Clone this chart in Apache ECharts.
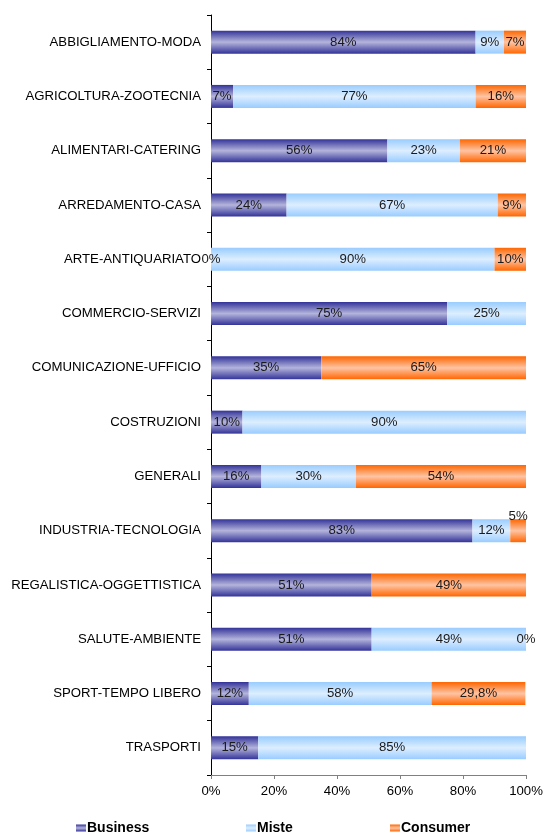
<!DOCTYPE html>
<html>
<head>
<meta charset="utf-8">
<script src="https://cdn.jsdelivr.net/npm/echarts@6/dist/echarts.min.js"></script>
<style>
  html, body { margin: 0; padding: 0; background: #fff; }
  #chart { width: 544px; height: 836px; }
</style>
</head>
<body>
<div id="chart"></div>
<script>
const categories = [
  "ABBIGLIAMENTO-MODA", "AGRICOLTURA-ZOOTECNIA", "ALIMENTARI-CATERING",
  "ARREDAMENTO-CASA", "ARTE-ANTIQUARIATO", "COMMERCIO-SERVIZI",
  "COMUNICAZIONE-UFFICIO", "COSTRUZIONI", "GENERALI",
  "INDUSTRIA-TECNOLOGIA", "REGALISTICA-OGGETTISTICA", "SALUTE-AMBIENTE",
  "SPORT-TEMPO LIBERO", "TRASPORTI"
];
const business = [84, 7, 56, 24, 0, 75, 35, 10, 16, 83, 51, 51, 12, 15];
const miste = [9, 77, 23, 67, 90, 25, null, 90, 30, 12, null, 49, 58, 85];
const consumer = [7, 16, 21, 9, 10, null, 65, null, 54, 5, 49, 0, 29.8, null];
const xTicks = ["0%", "20%", "40%", "60%", "80%", "100%"];

const font = "Liberation Sans, Arial, sans-serif";

function grad(edge, mid) {
  return new echarts.graphic.LinearGradient(0, 0, 0, 1, [
    { offset: 0, color: edge },
    { offset: 0.5, color: mid },
    { offset: 1, color: edge }
  ]);
}

const colBusiness = grad("#333399", "#b4b4dc");
const colMiste = grad("#99ccff", "#ddeeff");
const colConsumer = grad("#ff6600", "#ffc4a4");

const labelFmt = p => String(p.value).replace(".", ",") + "%";

function makeSeries(name, values, color) {
  return {
    name: name,
    type: "bar",
    stack: "tot",
    barWidth: 23,
    itemStyle: { color: color },
    label: {
      show: true,
      position: "inside",
      color: "#1a1a1a",
      fontFamily: font,
      fontSize: 13.2,
      formatter: labelFmt
    },
    data: values.map((v, i) => {
      if (name === "Consumer" && categories[i] === "INDUSTRIA-TECNOLOGIA") {
        return { value: v, label: { offset: [0, -14] } };
      }
      return v;
    })
  };
}

function legendAt(name, left) {
  return {
    data: [{ name: name, icon: "rect" }],
    left: left,
    top: 821,
    itemWidth: 10,
    itemHeight: 7,
    itemGap: 2,
    padding: 0,
    textStyle: { fontFamily: font, fontSize: 14, fontWeight: "bold", color: "#000", padding: [0, 0, 0, -4] }
  };
}

const chart = echarts.init(document.getElementById("chart"));
chart.setOption({
  animation: false,
  grid: { left: 211, right: 18, top: 15, bottom: 61, containLabel: false, outerBoundsMode: "none" },
  xAxis: {
    type: "value",
    min: 0,
    max: 100,
    interval: 20,
    axisLine: { show: true, lineStyle: { color: "#808080", width: 1 } },
    axisTick: { show: true, length: 4, lineStyle: { color: "#808080" } },
    splitLine: { show: false },
    axisLabel: {
      color: "#000",
      fontFamily: font,
      fontSize: 13.2,
      margin: 10,
      formatter: v => xTicks[v / 20]
    }
  },
  yAxis: {
    type: "category",
    inverse: true,
    data: categories,
    axisLine: { show: true, lineStyle: { color: "#000", width: 1 } },
    axisTick: { show: true, length: 4, lineStyle: { color: "#000" } },
    axisLabel: { color: "#000", fontFamily: font, fontSize: 13.2, margin: 10 }
  },
  legend: [
    legendAt("Business", 76),
    legendAt("Miste", 246),
    legendAt("Consumer", 390)
  ],
  series: [
    makeSeries("Business", business, colBusiness),
    makeSeries("Miste", miste, colMiste),
    makeSeries("Consumer", consumer, colConsumer)
  ]
});
</script>
</body>
</html>
